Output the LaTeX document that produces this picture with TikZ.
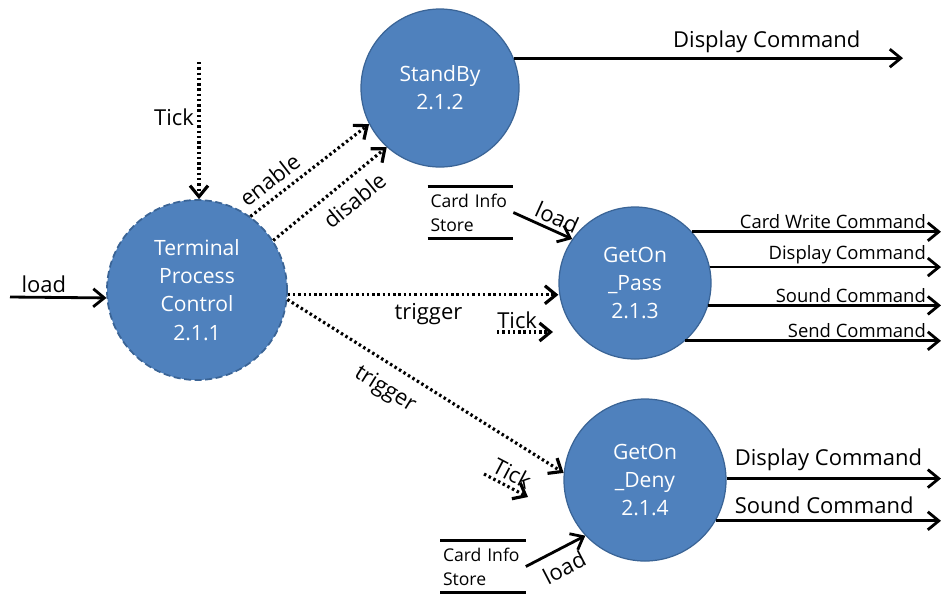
\documentclass[tikz,border=0pt]{standalone}
\usepackage{fontspec}
\setmainfont{Open Sans}
\usetikzlibrary{arrows.meta, positioning, quotes}
\usepackage{xcolor}
\definecolor{procfill}{HTML}{4F81BD}
\definecolor{procdraw}{HTML}{3A6496}
\def\pxunit{0.2mm}

\begin{document}
\begin{tikzpicture}[x=\pxunit, y=-\pxunit, >={Straight Barb[length=2.2mm,width=3.6mm]}]
    \tikzstyle{process}=[circle, fill=procfill, draw=procdraw, line width=0.7pt, text=white, align=center, inner sep=0pt, font=\fontsize{12}{16}\selectfont]
    \tikzstyle{ctrl process}=[process, dash pattern=on 4pt off 2pt, line width=1pt]
    \tikzstyle{flow}=[->, line width=1.6pt]
    \tikzstyle{ctrl flow}=[->, line width=1.8pt, dash pattern=on 1.4pt off 1.6pt]
    \tikzstyle{lbl}=[font=\fontsize{12.5}{15}\selectfont, inner sep=2pt]
    \tikzstyle{small lbl}=[font=\fontsize{10.5}{13}\selectfont, inner sep=1pt]
    \tikzstyle{store}=[align=left, text width=16mm, inner xsep=0.5mm, minimum height=10.2mm, font=\fontsize{10}{13.5}\selectfont]

    \useasboundingbox (0,0) rectangle (941,602);

    % Draw the processes
    \node[ctrl process, minimum size=36mm] (tpc) at (197,290) {Terminal\\Process\\Control\\2.1.1};
    \node[process, minimum size=31.6mm] (standby) at (440,88) {StandBy\\2.1.2};
    \node[process, minimum size=30.4mm] (pass) at (635,283) {GetOn\\\_Pass\\2.1.3};
    \node[process, minimum size=32.4mm] (deny) at (645,480) {GetOn\\\_Deny\\2.1.4};

    % Draw the data stores
    \node[store] (store-1) at (470.5,212.5) {Card Info\\Store};
    \node[store] (store-2) at (483,566.5) {Card Info\\Store};
    \foreach \name in {1,2}
        \draw[line width=1.6pt] (store-\name.north west) -- (store-\name.north east)
                                (store-\name.south west) -- (store-\name.south east);

    % Free ends of the flows
    \coordinate (load-in) at (10,297);
    \coordinate (tick-top) at (199,62);
    \coordinate (tick-pass) at (497,332);
    \coordinate (tick-deny) at (484,474);
    \coordinate (disp-end) at (903,0);
    \coordinate (rim) at (941,0);

    % Inputs of the control process
    \draw[flow] (load-in) -- node[lbl, above, pos=0.35] {load} (tpc.185);
    \draw[ctrl flow] (tick-top) -- node[lbl, left, pos=0.4] {Tick} (tick-top |- tpc.north);

    % Control flows
    \draw[ctrl flow] (tpc.54) -- node[lbl, sloped, above, pos=0.25, yshift=2pt] {enable} (standby.207);
    \draw[ctrl flow] (tpc.33) -- node[lbl, sloped, below, pos=0.6, yshift=-4pt] {disable} (standby.228);
    \draw[ctrl flow] (tpc.-3) -- node[lbl, below, pos=0.52, yshift=-2pt] {trigger} (tpc.-3 -| pass.west);
    \draw[ctrl flow] (tpc.-6) -- node[lbl, sloped, below, pos=0.4, yshift=-5pt] {trigger} (deny.175);
    \draw[ctrl flow] (tick-pass) -- node[lbl, above, pos=0.36, inner sep=0pt, yshift=1pt] {Tick} ++(56,0);
    \draw[ctrl flow] (tick-deny) -- node[lbl, sloped, above, pos=0.5, inner sep=1pt, yshift=1pt] {Tick} ++(44,23);

    % Loads from the stores
    \draw[flow] (store-1.east) -- node[lbl, sloped, above, pos=0.65] {load} (pass.145);
    \draw[flow] (store-2.east) -- node[lbl, sloped, below, pos=0.5, yshift=-3pt] {load} (deny.223);

    % Outputs
    \draw[flow] (standby.22) -- node[lbl, above, pos=0.65] {Display Command} (standby.22 -| disp-end);
    \foreach \ang/\txt in {42/Card Write Command, 12/Display Command, -17/Sound Command, -49/Send Command}
        \draw[flow] (pass.\ang) -- (pass.\ang -| rim) node[small lbl, anchor=south east, xshift=-2.4mm] {\txt};
    \foreach \ang/\txt in {1/Display Command, -30/Sound Command}
        \draw[flow] (deny.\ang) -- (deny.\ang -| rim);
    \node[lbl, anchor=south west] (deny-disp) at (731,475) {Display Command};
    \node[lbl, anchor=south west] (deny-sound) at (731,518) {Sound Command};
\end{tikzpicture}
\end{document}
